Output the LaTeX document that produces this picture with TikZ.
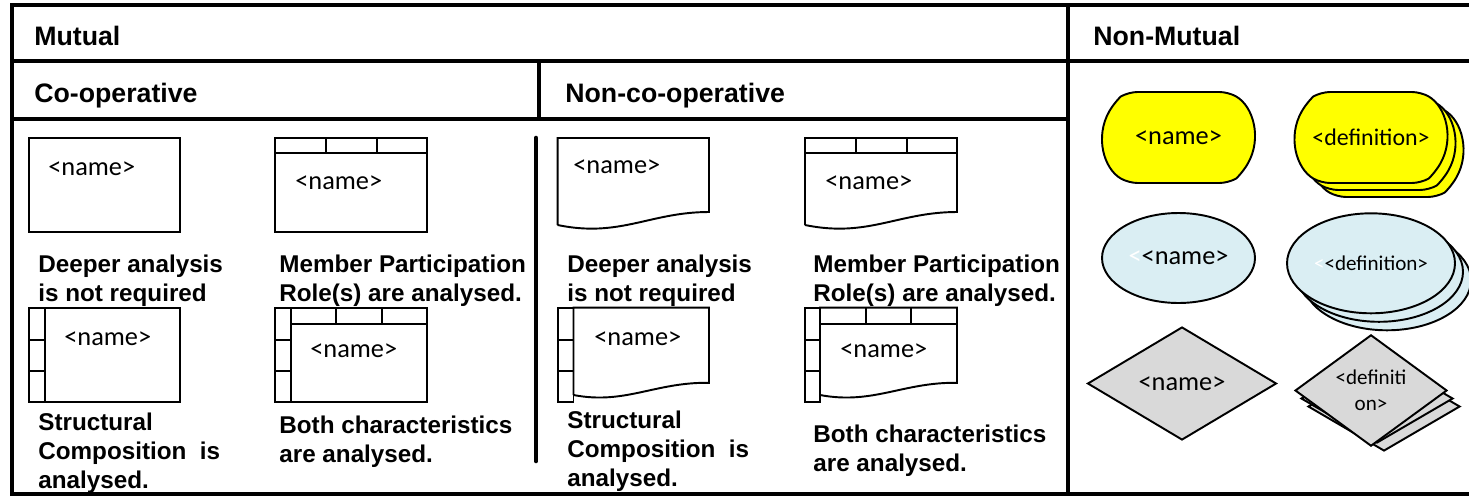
\documentclass[tikz,border=0pt]{standalone}
\usepackage{fontspec}
\setmainfont{Liberation Sans}
\newfontfamily\shapefont{Carlito}
\usetikzlibrary{shapes.geometric,shapes.misc}
\definecolor{nmyellow}{RGB}{255,255,0}
\definecolor{nmblue}{RGB}{218,238,243}
\definecolor{nmgray}{RGB}{217,217,217}
\tikzset{
  frame/.style={line width=2.3pt},
  rule/.style={line width=1.8pt},
  part/.style={line width=1.1pt},
  head/.style={anchor=base west, inner sep=0, font=\fontsize{15.2}{18}\selectfont\bfseries},
  caption/.style={anchor=base west, inner sep=0, align=left, font=\fontsize{13.8}{16.4}\selectfont\bfseries},
  tag/.style={anchor=base west, inner sep=0, font=\shapefont\fontsize{15}{18}\selectfont},
  box/.style={draw, part, inner sep=0, minimum width=3.03cm, minimum height=1.88cm},
  blob/.style={draw, part, fill=nmyellow, rounded rectangle, rounded rectangle arc length=120,
    rounded corners=5pt, inner sep=0, minimum width=3.05cm, minimum height=1.82cm,
    font=\shapefont\fontsize{15}{18}\selectfont},
  oval/.style={draw, part, fill=nmblue, ellipse, inner sep=0, font=\shapefont\fontsize{15}{18}\selectfont},
  rhomb/.style={draw, part, fill=nmgray, diamond, inner sep=0, font=\shapefont\fontsize{15}{18}\selectfont}
}

\begin{document}
\begin{tikzpicture}[x=0.02cm, y=-0.02cm]
  \useasboundingbox (0,0) rectangle (1469,497);

  % table frame
  \draw[frame] (1469,5) -- (12,5) -- (12,494) -- (1469,494);
  \draw[rule] (12,61) -- (1469,61);
  \draw[rule] (12,119) -- (1068,119);
  \draw[rule] (539,61) -- (539,119);
  \draw[rule] (1068,5) -- (1068,494);
  \draw[line width=2.6pt, line cap=round] (536,138) -- (536,461);

  \node[head] (mutual)    at (34,45)   {Mutual};
  \node[head] (nonmutual) at (1093,45) {Non-Mutual};
  \node[head] (coop)      at (34,102)  {Co-operative};
  \node[head] (noncoop)   at (565,102) {Non-co-operative};

  % co-operative
  \node[box] (c1) at (104.5,185) {};
  \node[box] (c2) at (351,185) {};
  \draw[part] (275,153) -- (427,153) (326,138) -- (326,153) (377,138) -- (377,153);
  \node[box] (c3) at (104.5,354.6) {};
  \draw[part] (45,307.6) -- (45,401.7) (28.6,339.7) -- (45,339.7) (28.6,370.7) -- (45,370.7);
  \node[box] (c4) at (351,354.6) {};
  \draw[part] (291,307.6) -- (291,401.7) (291,324) -- (427,324)
        (336,307.6) -- (336,324) (382,307.6) -- (382,324)
        (275,340) -- (291,340) (275,371) -- (291,371);

  \node[tag] (c1name) at (48,175)  {<name>};
  \node[tag] (c2name) at (295,189) {<name>};
  \node[tag] (c3name) at (64,345)  {<name>};
  \node[tag] (c4name) at (310,357) {<name>};

  % captions sit on their last baseline
  \node[caption] (c1text) at (38,301)  {Deeper analysis\\is not required};
  \node[caption] (c2text) at (279,301) {Member Participation\\Role(s) are analysed.};
  \node[caption] (c3text) at (38,488)  {Structural\\Composition\ \ is\\analysed.};
  \node[caption] (c4text) at (279,462) {Both characteristics\\are analysed.};

  % non-co-operative
  \draw[part] (557.6,225) -- (557.6,138) -- (709,138) -- (709,212)
        .. controls (650,212) and (620,238) .. (557.6,225);
  \draw[part] (805,225) -- (805,138) -- (957,138) -- (957,212)
        .. controls (898,212) and (868,238) .. (805,225);
  \draw[part] (805,153) -- (957,153) (856,138) -- (856,153) (907,138) -- (907,153);
  \draw[part] (557.6,307.6) rectangle (573.5,401.7)
        (557.6,339.7) -- (573.5,339.7) (557.6,370.7) -- (573.5,370.7);
  \draw[part] (573.5,395) -- (573.5,307.6) -- (709,307.6) -- (709,382.8)
        .. controls (655,382) and (625,405) .. (573.5,395);
  \draw[part] (805,307.6) rectangle (820,401.7)
        (805,340) -- (820,340) (805,371) -- (820,371);
  \draw[part] (820,395) -- (820,307.6) -- (957,307.6) -- (957,382.8)
        .. controls (903,382) and (873,405) .. (820,395);
  \draw[part] (820,324) -- (957,324) (866,307.6) -- (866,324) (911,307.6) -- (911,324);

  \node[tag] (n1name) at (573,173) {<name>};
  \node[tag] (n2name) at (825,189) {<name>};
  \node[tag] (n3name) at (594,345) {<name>};
  \node[tag] (n4name) at (840,357) {<name>};

  \node[caption] (n1text) at (567,301) {Deeper analysis\\is not required};
  \node[caption] (n2text) at (813,301) {Member Participation\\Role(s) are analysed.};
  \node[caption] (n3text) at (567,486) {Structural\\Composition\ \ is\\analysed.};
  \node[caption] (n4text) at (813,471) {Both characteristics\\are analysed.};

  % non-mutual
  \node[blob] (blob) at (1178.5,137.5) {<name>};
  \node[blob] (blobs3) at (1387,151.5) {};
  \node[blob] (blobs2) at (1379,144.5) {};
  \node[blob, font=\shapefont\fontsize{13.6}{16}\selectfont] (blobs) at (1371,137.5) {<definition>};

  \node[oval, minimum width=3.06cm, minimum height=1.8cm] (oval) at (1178.5,258)
        {\textcolor{white}{<}<name>};
  \node[oval, minimum width=3.36cm, minimum height=2cm] (ovals3) at (1387,280.3) {};
  \node[oval, minimum width=3.36cm, minimum height=2cm] (ovals2) at (1379,271.8) {};
  \node[oval, minimum width=3.36cm, minimum height=2cm, font=\shapefont\fontsize{12}{14}\selectfont]
        (ovals) at (1371,263.3) {\textcolor{white}{<}<definition>};

  \node[rhomb, minimum width=3.78cm, minimum height=2.26cm] (rhomb) at (1182,383.5) {<name>};
  \node[rhomb, minimum width=3.04cm, minimum height=1.78cm] (rhombs3) at (1384,406.5) {};
  \node[rhomb, minimum width=3.04cm, minimum height=1.78cm] (rhombs2) at (1377,398.5) {};
  \node[rhomb, minimum width=3.04cm, minimum height=1.78cm, align=center,
        font=\shapefont\fontsize{12}{14.7}\selectfont] (rhombs) at (1371,390.5) {<definiti\\on>};
\end{tikzpicture}
\end{document}
